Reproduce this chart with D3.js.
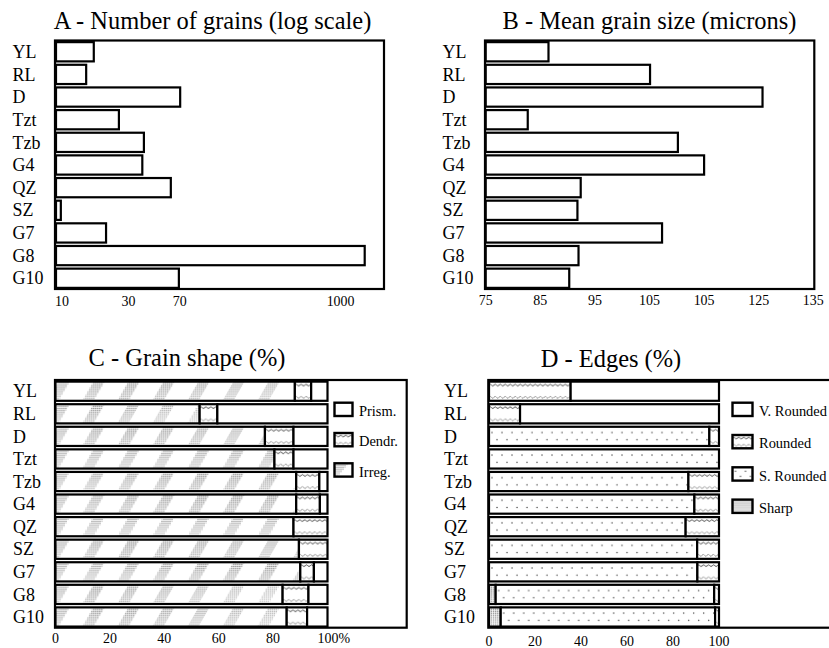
<!DOCTYPE html>
<html>
<head>
<meta charset="utf-8">
<script src="https://cdn.jsdelivr.net/npm/d3@7"></script>
<style>
  body { margin: 0; background: #fff; }
  svg { display: block; }
  text { fill: #000; }
</style>
</head>
<body>
<svg id="chart" width="829" height="648"></svg>
<script>
// ---- data ----
const sites = ["YL", "RL", "D", "Tzt", "Tzb", "G4", "QZ", "SZ", "G7", "G8", "G10"];

// A - number of grains (log scale)
const grainCount = [16.9, 14.9, 70.5, 25.6, 38.7, 37.7, 60.4, 9.8, 20.7, 1490, 69];
const countTicks = [10, 30, 70, 1000];

// B - mean grain size (microns)
const meanSize = [86.5, 105.1, 125.7, 82.7, 110.2, 115, 92.4, 91.8, 107.3, 92, 90.3];
const sizeTicks = [75, 85, 95, 105, 115, 125, 135];
const sizeTickLabels = ["75", "85", "95", "105", "105", "125", "135"];

// C - grain shape (%)
const shapeKeys = ["Irreg.", "Dendr.", "Prism."];
const shapeIrreg = [88, 53, 77, 80.5, 88.5, 88.5, 87.5, 89.5, 90, 83.5, 85];
const shapeDendr = [6, 6.5, 10.5, 7, 8.5, 8.7, 12.5, 10.5, 5, 9.5, 7.5];
const shapePrism = [6, 40.5, 12.5, 12.5, 3, 2.8, 0, 0, 5, 7, 7.5];
const shapeLegend = ["Prism.", "Dendr.", "Irreg."];
const pctTicks = [0, 20, 40, 60, 80, 100];

// D - edges (%)
const edgeKeys = ["Sharp", "S. Rounded", "Rounded", "V. Rounded"];
const edgeSharp = [0, 0, 0, 0, 0, 0, 0, 0, 0, 2.9, 5.1];
const edgeSRounded = [0, 0, 95.8, 100, 86.7, 89.3, 85.5, 90.5, 90.6, 95, 93.2];
const edgeRounded = [35.5, 13.5, 4.2, 0, 13.3, 10.7, 14.5, 9.5, 9.4, 2.1, 1.7];
const edgeVRounded = [64.5, 86.5, 0, 0, 0, 0, 0, 0, 0, 0, 0];
const edgeLegend = ["V. Rounded", "Rounded", "S. Rounded", "Sharp"];

// fill style of each class
const fillType = {
  "Prism.": "plain", "Dendr.": "wave", "Irreg.": "stripe",
  "V. Rounded": "plain", "Rounded": "wave", "S. Rounded": "sparse", "Sharp": "dense"
};

// ---- pick an installed Times-like face ----
const ctx = document.createElement("canvas").getContext("2d");
const probe = "A - Number of grains (log scale) Wmiq";
function widthIn(f) { ctx.font = `40px ${f}`; return ctx.measureText(probe).width; }
const serifCandidates = ["Liberation Serif", "Tinos", "Times New Roman", "Times",
  "Nimbus Roman", "Nimbus Roman No9 L", "FreeSerif", "Noto Serif", "DejaVu Serif"];
let FONT = "serif";
for (const c of serifCandidates) {
  const w = widthIn(`"${c}", monospace`);
  if (Math.abs(w - widthIn("monospace")) > 0.5 && Math.abs(widthIn(`"${c}", sans-serif`) - widthIn("sans-serif")) > 0.5) {
    FONT = `"${c}"`; break;
  }
}
// scale type so the widest title keeps its Times proportions
ctx.font = `24.5px ${FONT}`;
const SCALE = Math.min(1, 319 / ctx.measureText("A - Number of grains (log scale)").width);
const fs = s => s * SCALE;

const svg = d3.select("#chart").style("font-family", FONT);
svg.append("rect").attr("width", 829).attr("height", 648).attr("fill", "#fff");
const defs = svg.append("defs");

// fine dot screen used inside the hatched fills
defs.append("pattern").attr("id", "screen")
  .attr("patternUnits", "userSpaceOnUse").attr("width", 2).attr("height", 2)
  .append("rect").attr("width", 1).attr("height", 1).attr("fill", "#777");

// bounding-box patterns, one per fill type and box height
const made = {};
function fillFor(type, h) {
  if (type === "plain") return "#fff";
  const id = `${type}-${Math.round(h * 10)}`;
  if (!made[id]) {
    made[id] = true;
    const p = defs.append("pattern").attr("id", id)
      .attr("patternUnits", "objectBoundingBox").attr("x", 0).attr("y", 0)
      .attr("width", 1).attr("height", 1)
      .attr("patternContentUnits", "userSpaceOnUse");
    p.append("rect").attr("width", 420).attr("height", h).attr("fill", "#fff");
    if (type === "wave") {
      const wave = y => {
        let s = `M0,${y}`;
        for (let x = 0; x < 420; x += 5) s += " q1.25,-1.7 2.5,0 q1.25,1.7 2.5,0";
        return s;
      };
      p.append("path").attr("d", wave(h < 16 ? 3 : 3.5)).attr("fill", "none")
        .attr("stroke", "#333").attr("stroke-width", 0.9);
      p.append("path").attr("d", wave(h - (h < 16 ? 3 : 3.5))).attr("fill", "none")
        .attr("stroke", "#444").attr("stroke-width", 0.9).attr("stroke-dasharray", "1.2,0.8");
    } else if (type === "stripe") {
      for (let k = 0; k < 13; k++) {
        const x0 = 35 * k - 8;
        p.append("polygon")
          .attr("points", `${x0},${h} ${x0 + 11},${h} ${x0 + 22},0 ${x0 + 11},0`)
          .attr("fill", "url(#screen)");
      }
    } else if (type === "dense") {
      p.append("rect").attr("width", 420).attr("height", h).attr("fill", "url(#screen)");
    } else if (type === "sparse") {
      for (let x = 3; x < 420; x += 10) {
        p.append("circle").attr("cx", x).attr("cy", h * 0.3).attr("r", 0.7).attr("fill", "#333");
        p.append("circle").attr("cx", x + 5).attr("cy", h * 0.68).attr("r", 0.7).attr("fill", "#333");
      }
    }
  }
  return `url(#${id})`;
}

const STROKE = 2.2;

function panel({ x0, x1, y0, y1, title, titleX, titleY, labelX }) {
  const g = svg.append("g");
  const y = d3.scaleBand().domain(sites).range([y0 + 0.5, y1]).paddingInner(0.15).paddingOuter(0.05);
  g.append("text").attr("x", titleX).attr("y", titleY).attr("text-anchor", "middle")
    .attr("font-size", fs(24.5)).text(title);
  g.selectAll("text.cat").data(sites).join("text").attr("class", "cat")
    .attr("x", labelX).attr("y", d => y(d) + y.bandwidth() / 2 + 6.2)
    .attr("font-size", fs(18)).text(d => d);
  return { g, y };
}

function frame(g, x0, x1, y0, y1) {
  g.append("rect").attr("x", x0).attr("y", y0).attr("width", x1 - x0).attr("height", y1 - y0)
    .attr("fill", "none").attr("stroke", "#000").attr("stroke-width", STROKE);
}

// ---- A: number of grains ----
{
  const x0 = 55, x1 = 384, y0 = 40.5, y1 = 289;
  const { g, y } = panel({ x0, x1, y0, y1, title: "A - Number of grains (log scale)",
    titleX: 212.5, titleY: 28.5, labelX: 12.5 });
  const x = d3.scaleLog().domain([8.9, 2050]).range([x0, x1]);
  g.selectAll("rect.bar").data(sites).join("rect").attr("class", "bar")
    .attr("x", x0 + 1).attr("y", d => y(d))
    .attr("width", (d, i) => x(grainCount[i]) - x0 - 1).attr("height", y.bandwidth())
    .attr("fill", "#fff").attr("stroke", "#000").attr("stroke-width", STROKE);
  frame(g, x0, x1, y0, y1);
  g.selectAll("text.tick").data(countTicks).join("text").attr("class", "tick")
    .attr("x", d => x(d)).attr("y", 305.5).attr("text-anchor", "middle")
    .attr("font-size", fs(14)).text(d => d);
}

// ---- B: mean grain size ----
{
  const x0 = 485, x1 = 814.3, y0 = 40.5, y1 = 289;
  const { g, y } = panel({ x0, x1, y0, y1, title: "B - Mean grain size (microns)",
    titleX: 649.5, titleY: 28.5, labelX: 442.5 });
  const x = d3.scaleLinear().domain([75, 135]).range([485.7, 813.3]);
  g.selectAll("rect.bar").data(sites).join("rect").attr("class", "bar")
    .attr("x", x(75)).attr("y", d => y(d))
    .attr("width", (d, i) => x(meanSize[i]) - x(75)).attr("height", y.bandwidth())
    .attr("fill", "#fff").attr("stroke", "#000").attr("stroke-width", STROKE);
  frame(g, x0, x1, y0, y1);
  g.selectAll("text.tick").data(sizeTicks).join("text").attr("class", "tick")
    .attr("x", d => x(d)).attr("y", 305).attr("text-anchor", "middle")
    .attr("font-size", fs(14)).text((d, i) => sizeTickLabels[i]);
}

// stacked percentage panel
function stackedPanel({ x0, x1, y0, y1, title, titleX, titleY, labelX, xr, keys, cols,
                        legend, legX, legY, legStep, legW, legH, tickY, pctSuffix }) {
  const { g, y } = panel({ x0, x1, y0, y1, title, titleX, titleY, labelX });
  const x = d3.scaleLinear().domain([0, 100]).range(xr);
  const rows = sites.map((s, i) => {
    const r = { site: s };
    keys.forEach((k, j) => r[k] = cols[j][i]);
    return r;
  });
  const series = d3.stack().keys(keys)(rows);
  frame(g, x0, x1, y0, y1);
  series.forEach(sr => {
    g.append("g").selectAll("rect")
      .data(sr.filter(d => d[1] - d[0] > 0))
      .join("rect")
      .attr("x", d => x(d[0])).attr("y", d => y(d.data.site))
      .attr("width", d => x(d[1]) - x(d[0])).attr("height", y.bandwidth())
      .attr("fill", fillFor(fillType[sr.key], y.bandwidth()))
      .attr("stroke", "#000").attr("stroke-width", STROKE);
  });
  g.selectAll("text.tick").data(pctTicks).join("text").attr("class", "tick")
    .attr("x", d => x(d)).attr("y", tickY)
    .attr("text-anchor", d => (pctSuffix && d === 100) ? "start" : "middle")
    .attr("dx", d => (pctSuffix && d === 100) ? -10 : 0)
    .attr("font-size", fs(14)).text(d => (pctSuffix && d === 100) ? d + "%" : d);
  const lg = g.append("g");
  legend.forEach((k, i) => {
    const by = legY + i * legStep;
    lg.append("rect").attr("x", legX).attr("y", by).attr("width", legW).attr("height", legH)
      .attr("fill", fillFor(fillType[k], legH)).attr("stroke", "#000").attr("stroke-width", 2.4);
    lg.append("text").attr("x", legX + legW + 6.5).attr("y", by + legH)
      .attr("font-size", fs(14.5)).text(k);
  });
}

// ---- C: grain shape ----
stackedPanel({
  x0: 55, x1: 406.7, y0: 380, y1: 627.7,
  title: "C - Grain shape (%)", titleX: 187, titleY: 366, labelX: 13,
  xr: [55.5, 327.5], keys: shapeKeys, cols: [shapeIrreg, shapeDendr, shapePrism],
  legend: shapeLegend, legX: 334.5, legY: 402.7, legStep: 30.3, legW: 18, legH: 13.3,
  tickY: 643, pctSuffix: true
});

// ---- D: edges ----
stackedPanel({
  x0: 488.3, x1: 850, y0: 380, y1: 627.7,
  title: "D - Edges (%)", titleX: 611, titleY: 366.5, labelX: 444,
  xr: [489, 719], keys: edgeKeys, cols: [edgeSharp, edgeSRounded, edgeRounded, edgeVRounded],
  legend: edgeLegend, legX: 732.5, legY: 402.7, legStep: 32.3, legW: 20, legH: 13.3,
  tickY: 645.5, pctSuffix: false
});
</script>
</body>
</html>
